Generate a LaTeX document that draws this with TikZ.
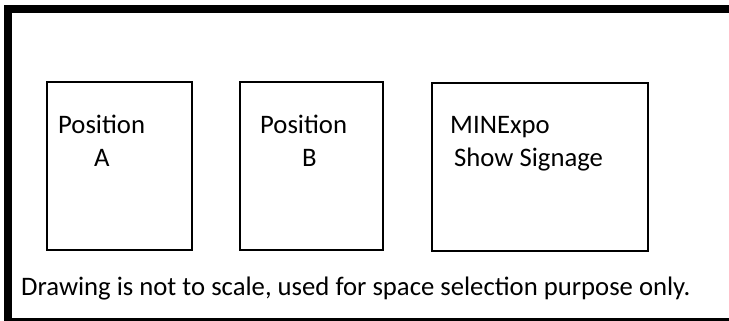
\documentclass[tikz,border=0pt]{standalone}
\usepackage{fontspec}
\setmainfont{Carlito}
\usepackage{tikz}

\begin{document}
\begin{tikzpicture}[x=1bp,y=-1bp]
\tikzstyle{every node}+=[inner sep=0pt, font=\fontsize{26.7bp}{33bp}\selectfont]
\tikzstyle{spot}=[draw=black, line width=2bp, anchor=north west]
\useasboundingbox (0,0) rectangle (729,320);
\clip (0,0) rectangle (729,320);
% outer frame, cut at right and bottom
\draw [black, line width=8bp] (8,9) rectangle (750,322);
% the three spaces
\node [spot, minimum width=145bp, minimum height=168bp] (posA) at (46,81) {};
\node [spot, minimum width=143bp, minimum height=168bp] (posB) at (239,81) {};
\node [spot, minimum width=216bp, minimum height=168bp] (sign) at (431,82) {};
% labels (base = last line)
\node [anchor=base west, align=left] (labA) at (58,166) {Position\\\hspace{36bp}A};
\node [anchor=base west, align=left] (labB) at (260,166) {Position\\\hspace{42bp}B};
\node [anchor=base west, align=left] (labC) at (450,166) {MINExpo\\\hspace{4bp}Show Signage};
\node [anchor=base west] (note) at (21,295) {Drawing is not to scale, used for space selection purpose only.};
\end{tikzpicture}
\end{document}
